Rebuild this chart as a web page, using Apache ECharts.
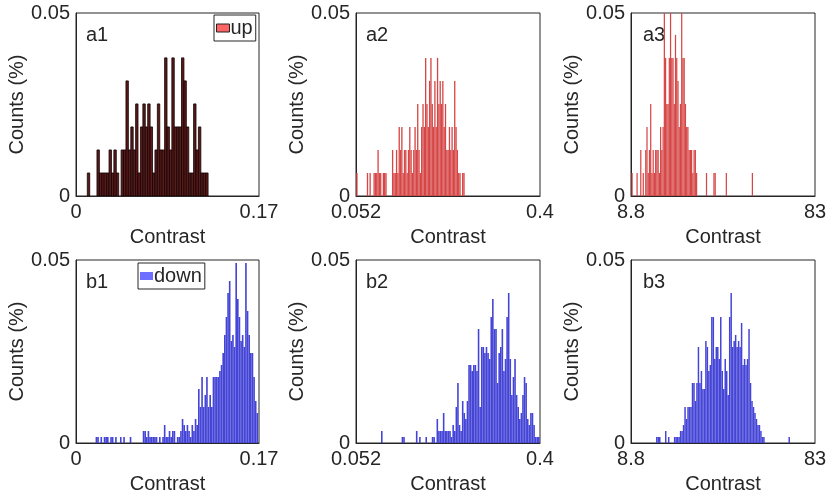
<!DOCTYPE html>
<html>
<head>
<meta charset="utf-8">
<script src="https://cdn.jsdelivr.net/npm/echarts@6/dist/echarts.min.js"></script>
<style>html,body{margin:0;padding:0;background:#fff}#c{width:828px;height:500px}</style>
</head>
<body>
<div id="c"></div>
<script>
// ---------- data (counts per bin) ----------
const upTotal = 159;     // samples of "up" (one count = 1/159)
const downTotal = 610;   // samples of "down"

// a1: up, contrast 0..0.17
const a1Start = 0.0105, a1Width = 0.002244;
const a1Counts = [1,0,0,0,2,1,1,1,1,2,1,2,1,0,2,2,5,2,3,2,4,1,3,4,3,4,3,1,2,4,2,2,6,3,2,6,3,3,3,6,5,3,1,1,4,2,3,1,1,1];

// a2: up, contrast 0.052..0.4
const a2Start = 0.0525, a2Width = 0.0025;
const a2Counts = [1,0,0,0,0,0,0,0,1,0,1,0,0,1,1,1,2,1,1,0,1,1,1,0,0,0,0,2,1,1,2,1,3,2,3,1,2,2,1,2,3,2,1,2,3,2,4,2,1,3,4,3,6,4,3,5,6,4,3,5,3,6,4,5,4,5,3,4,2,2,3,2,3,2,5,3,2,1,1,0,1,1];

// a3: up, contrast 8.8..83
const a3Start = 9.0, a3Width = 0.5;
const a3Counts = [1,0,0,0,1,0,0,2,0,1,0,2,3,1,2,4,1,2,1,2,2,2,1,3,2,3,8,6,4,4,6,8,6,6,4,7,6,5,3,4,8,6,6,4,3,3,2,2,2,1,2,2,1,0,0,0,0,0,0,0,1,0,0,0,0,0,1,1,0,0,0,0,0,0,0,0,1,0,0,0,0,0,0,0,0,0,0,0,0,0,0,0,0,0,0,0,0,1];

// b1: down, contrast 0..0.17
const b1Start = 0.0182, b1Width = 0.00151;
const b1Counts = [1,1,0,1,0,1,1,1,0,1,1,0,1,0,0,1,0,1,0,0,0,1,0,0,0,0,0,0,0,2,2,1,2,1,1,1,1,1,0,1,0,1,3,1,1,2,1,2,2,0,1,1,2,4,3,2,3,2,1,3,2,4,3,9,6,11,6,8,11,6,8,6,11,11,11,11,12,13,15,18,21,25,27,17,18,16,30,24,21,17,18,16,30,22,18,15,15,11,7,5];

// b2: down, contrast 0.052..0.4
const b2Start = 0.0993, b2Width = 0.003;
const b2Counts = [2,0,0,0,0,0,0,0,0,0,0,0,0,1,1,0,0,0,0,0,0,0,2,0,1,0,0,0,1,0,0,0,1,1,0,4,2,2,2,5,2,2,2,2,1,3,2,6,10,3,2,7,5,4,7,13,13,12,13,13,12,19,6,16,16,15,16,15,14,21,24,19,19,10,15,16,19,12,14,21,25,14,8,11,14,8,6,4,5,8,11,10,4,3,5,5,3,1,1,1];

// b3: down, contrast 8.8..83
const b3Start = 18.9, b3Width = 0.6;
const b3Counts = [1,1,1,0,0,0,2,0,1,0,0,0,1,1,1,1,2,2,3,6,4,6,6,6,10,10,7,10,16,10,12,9,9,17,16,12,13,21,21,14,16,16,14,21,12,9,14,12,8,21,25,16,17,18,16,17,16,20,13,14,13,14,19,10,7,6,5,4,3,3,2,1,1,0,0,0,0,0,0,0,0,0,0,0,0,0,0,0,0,1];

// axes
const xRanges = { c1: [0, 0.17], c2: [0.052, 0.4], c3: [8.8, 83] };
const xTickLabels = { c1: ['0', '0.17'], c2: ['0.052', '0.4'], c3: ['8.8', '83'] };
const yRange = [0, 0.05];
const yTickLabels = ['0', '0.05'];
const panelLabels = ['a1', 'a2', 'a3', 'b1', 'b2', 'b3'];

// ---------- build chart ----------
function toBins(start, width, counts, total) {
  return counts.map((c, i) => [start + i * width, start + (i + 1) * width, c / total]);
}

const FONT = 'Liberation Sans, Arial, Helvetica, sans-serif';
const FS = 20;
const panels = [
  { key: 'c1', data: toBins(a1Start, a1Width, a1Counts, upTotal), name: 'up', fill: '#5a1a1a', stroke: '#120303', lw: 0.8 },
  { key: 'c2', data: toBins(a2Start, a2Width, a2Counts, upTotal), name: 'up', fill: '#d64646', stroke: null, lw: 0 },
  { key: 'c3', data: toBins(a3Start, a3Width, a3Counts, upTotal), name: 'up', fill: '#d64646', stroke: null, lw: 0 },
  { key: 'c1', data: toBins(b1Start, b1Width, b1Counts, downTotal), name: 'down', fill: '#4444d6', stroke: null, lw: 0 },
  { key: 'c2', data: toBins(b2Start, b2Width, b2Counts, downTotal), name: 'down', fill: '#4444d6', stroke: null, lw: 0 },
  { key: 'c3', data: toBins(b3Start, b3Width, b3Counts, downTotal), name: 'down', fill: '#4444d6', stroke: null, lw: 0 }
];

const gridPos = [
  { left: 76, top: 13, width: 183, height: 183 },
  { left: 356, top: 13, width: 184, height: 183 },
  { left: 631, top: 13, width: 184, height: 183 },
  { left: 76, top: 260, width: 183, height: 183 },
  { left: 356, top: 260, width: 184, height: 183 },
  { left: 631, top: 260, width: 184, height: 183 }
];

const grid = [], xAxis = [], yAxis = [], series = [], graphic = [];
panels.forEach((p, i) => {
  const g = gridPos[i];
  grid.push(Object.assign({ containLabel: false, outerBoundsMode: 'none', show: true, borderColor: '#262626', borderWidth: 1, backgroundColor: 'transparent' }, g));
  const xr = xRanges[p.key], xl = xTickLabels[p.key];
  xAxis.push({
    type: 'value', gridIndex: i, min: xr[0], max: xr[1],
    splitLine: { show: false },
    axisLine: { show: true, onZero: false, lineStyle: { color: '#262626', width: 1 } },
    axisTick: { show: false },
    axisLabel: {
      customValues: xr, color: '#262626', fontSize: FS, fontFamily: FONT, margin: 6,
      formatter: v => (Math.abs(v - xr[0]) < Math.abs(v - xr[1]) ? xl[0] : xl[1])
    },
    name: 'Contrast', nameLocation: 'middle', nameGap: 31,
    nameTextStyle: { color: '#262626', fontSize: FS, fontFamily: FONT }
  });
  yAxis.push({
    type: 'value', gridIndex: i, min: yRange[0], max: yRange[1],
    splitLine: { show: false },
    axisLine: { show: true, onZero: false, lineStyle: { color: '#262626', width: 1 } },
    axisTick: { show: false },
    axisLabel: {
      customValues: yRange, color: '#262626', fontSize: FS, fontFamily: FONT, margin: 6,
      formatter: v => (v < 0.025 ? yTickLabels[0] : yTickLabels[1])
    },
    name: 'Counts (%)', nameLocation: 'middle', nameGap: 46,
    nameTextStyle: { color: '#262626', fontSize: FS, fontFamily: FONT }
  });
  series.push({
    type: 'custom', name: p.name, xAxisIndex: i, yAxisIndex: i, clip: true,
    silent: true, animation: false,
    encode: { x: [0, 1], y: 2 },
    data: p.data,
    renderItem: (params, api) => {
      if (api.value(2) <= 0) return null;
      const p0 = api.coord([api.value(0), api.value(2)]);
      const p1 = api.coord([api.value(1), 0]);
      const style = p.stroke ? { fill: p.fill, stroke: p.stroke, lineWidth: p.lw } : { fill: p.fill };
      return {
        type: 'rect',
        shape: { x: p0[0], y: p0[1], width: p1[0] - p0[0], height: p1[1] - p0[1] },
        style: style
      };
    }
  });
  graphic.push({
    type: 'text', left: g.left + (i % 3 === 2 ? 12 : 10), top: g.top + 12,
    style: { text: panelLabels[i], fill: '#262626', font: FS + 'px ' + FONT }
  });
});

const legendBase = {
  orient: 'horizontal', icon: 'rect',
  itemWidth: 13, itemHeight: 8, itemGap: 2,
  padding: [3, 3, 3, 2], borderColor: '#262626', borderWidth: 1, backgroundColor: '#fff',
  textStyle: { color: '#262626', fontSize: FS, fontFamily: FONT, padding: [0, 0, 0, -4] },
  selectedMode: false
};

const option = {
  animation: false,
  backgroundColor: '#fff',
  grid, xAxis, yAxis, series, graphic,
  legend: [
    Object.assign({}, legendBase, {
      data: [{ name: 'up', itemStyle: { color: '#ff6464', borderColor: '#222', borderWidth: 1 } }],
      left: 214, top: 15
    }),
    Object.assign({}, legendBase, {
      data: [{ name: 'down', itemStyle: { color: '#6e6eff', borderWidth: 0 } }],
      left: 138, top: 263
    })
  ]
};

const chart = echarts.init(document.getElementById('c'), null, { renderer: 'canvas' });
chart.setOption(option);
</script>
</body>
</html>
